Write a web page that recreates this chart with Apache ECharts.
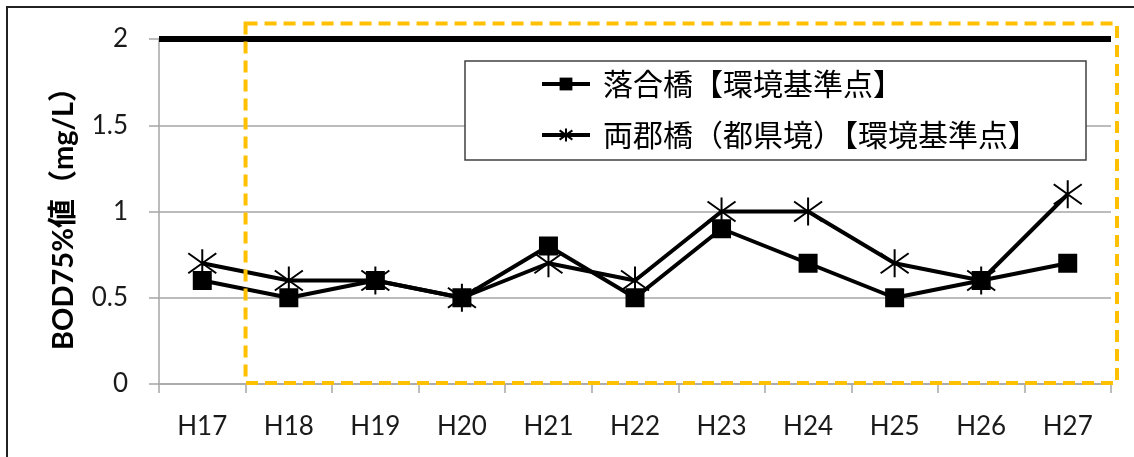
<!DOCTYPE html>
<html>
<head>
<meta charset="utf-8">
<script src="https://cdn.jsdelivr.net/npm/echarts@6/dist/echarts.min.js"></script>
<style>
html,body{margin:0;padding:0;background:#fff;}
#chart{width:1134px;height:457px;}
</style>
</head>
<body>
<div id="chart"></div>
<script>
// ---- data ----
var categories = ['H17','H18','H19','H20','H21','H22','H23','H24','H25','H26','H27'];
var seriesNames = ['落合橋【環境基準点】', '両郡橋（都県境）【環境基準点】'];
var ochiaiValues = [0.6, 0.5, 0.6, 0.5, 0.8, 0.5, 0.9, 0.7, 0.5, 0.6, 0.7];
var ryoguValues  = [0.7, 0.6, 0.6, 0.5, 0.7, 0.6, 1.0, 1.0, 0.7, 0.6, 1.1];
var standardValue = 2;
var yTicks = [0, 0.5, 1, 1.5, 2];
var yAxisName = 'BOD75%値（mg/L）';
var boxTopValue = 2.09;

var starPath = 'path://M14,0L14,28M1,4L27,24M1,24L27,4';
var latin = 'Lato, "Noto Sans CJK JP", sans-serif';
var cjk = '"Noto Sans CJK JP", sans-serif';

var chart = echarts.init(document.getElementById('chart'), null, {renderer:'canvas'});
var option = {
  animation: false,
  backgroundColor: '#fff',
  grid: {left: 159, right: 23, top: 39, bottom: 73, containLabel: false},
  legend: {
    orient: 'vertical',
    left: 465, top: 61,
    padding: [8, 48, 10, 75],
    itemGap: 21,
    itemWidth: 48,
    itemHeight: 16,
    backgroundColor: '#fff',
    borderColor: '#404040',
    borderWidth: 1.5,
    borderRadius: 0,
    lineStyle: {width: 4, color: '#000'},
    textStyle: {fontFamily: cjk, fontSize: 30, color: '#000', lineHeight: 28, padding: [0,0,0,8]},
    data: seriesNames
  },
  xAxis: {
    type: 'category',
    data: categories,
    boundaryGap: true,
    axisLine: {lineStyle: {color: '#a6a6a6', width: 1.5}},
    axisTick: {show: true, length: 9, alignWithLabel: false, lineStyle: {color: '#a6a6a6', width: 1.5}},
    axisLabel: {fontFamily: latin, fontSize: 26, color: '#1a1a1a', margin: 30},
    splitLine: {show: false}
  },
  yAxis: {
    type: 'value',
    min: 0, max: 2, interval: 0.5,
    name: yAxisName,
    nameLocation: 'middle',
    nameRotate: 90,
    nameGap: 81,
    nameTextStyle: {fontFamily: latin, fontSize: 29, fontWeight: 'bold', color: '#000'},
    axisLine: {show: true, lineStyle: {color: '#a6a6a6', width: 1.5}},
    axisTick: {show: true, length: 10, lineStyle: {color: '#a6a6a6', width: 1.5}},
    axisLabel: {fontFamily: latin, fontSize: 26, color: '#1a1a1a', margin: 31,
      formatter: function (v) { return yTicks.indexOf(v) >= 0 ? String(v) : ''; }},
    splitLine: {show: true, lineStyle: {color: '#a6a6a6', width: 1.5}}
  },
  series: [
    {
      name: seriesNames[0],
      type: 'line',
      data: ochiaiValues,
      symbol: 'rect',
      symbolSize: 19,
      lineStyle: {color: '#000', width: 4},
      itemStyle: {color: '#000'},
      z: 3,
      markLine: {
        silent: true,
        symbol: ['none', 'none'],
        label: {show: false},
        lineStyle: {color: '#000', width: 6, type: 'solid'},
        data: [{yAxis: standardValue}]
      }
    },
    {
      name: seriesNames[1],
      type: 'line',
      data: ryoguValues,
      symbol: starPath,
      symbolSize: 28,
      lineStyle: {color: '#000', width: 4},
      itemStyle: {color: 'rgba(0,0,0,0)', borderColor: '#000', borderWidth: 2},
      z: 4
    }
  ]
};
chart.setOption(option);

function drawDecor() {
  var p18 = chart.convertToPixel({xAxisIndex: 0}, categories[1]);
  var p19 = chart.convertToPixel({xAxisIndex: 0}, categories[2]);
  var band = p19 - p18;
  var left = p18 - band / 2;
  var pLast = chart.convertToPixel({xAxisIndex: 0}, categories[categories.length - 1]);
  var right = pLast + band / 2 + 6;
  var top = chart.convertToPixel({yAxisIndex: 0}, boxTopValue);
  var bottom = chart.convertToPixel({yAxisIndex: 0}, 0) - 1;
  chart.setOption({
    graphic: [
      {
        type: 'rect', z: 100, silent: true,
        shape: {x: left, y: top, width: right - left, height: bottom - top},
        style: {fill: 'none', stroke: '#FFC000', lineWidth: 4, lineDash: [12, 7]}
      },
      {
        type: 'rect', z: 100, silent: true,
        shape: {x: 7, y: 7, width: 1160, height: 480},
        style: {fill: 'none', stroke: '#222', lineWidth: 2}
      }
    ]
  });
}
drawDecor();
</script>
</body>
</html>
